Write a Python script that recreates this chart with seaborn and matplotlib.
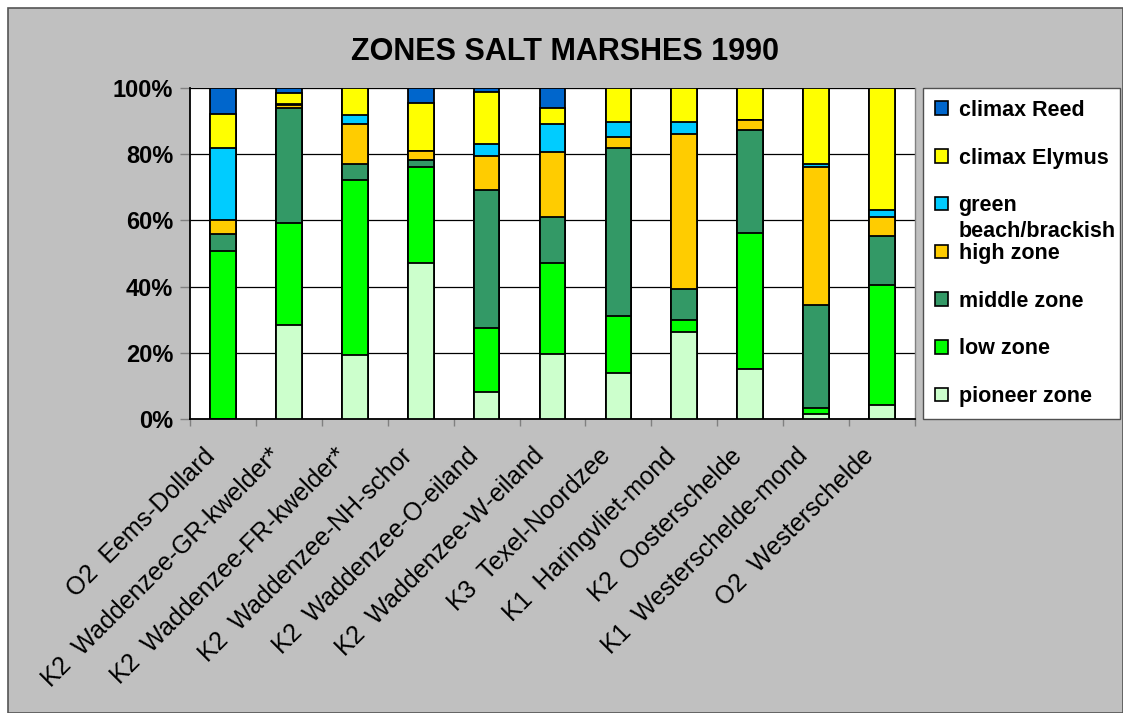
import numpy as np
import pandas as pd
import matplotlib
matplotlib.use("Agg")
import matplotlib.pyplot as plt
from matplotlib.patches import Patch, Rectangle
from matplotlib.transforms import ScaledTranslation
import seaborn as sns

categories = [
    "O2  Eems-Dollard",
    "K2  Waddenzee-GR-kwelder*",
    "K2  Waddenzee-FR-kwelder*",
    "K2  Waddenzee-NH-schor",
    "K2  Waddenzee-O-eiland",
    "K2  Waddenzee-W-eiland",
    "K3  Texel-Noordzee",
    "K1  Haringvliet-mond",
    "K2  Oosterschelde",
    "K1  Westerschelde-mond",
    "O2  Westerschelde",
]

pioneer_zone = [0.0, 28.3, 19.2, 47.1, 8.1, 19.7, 13.8, 26.4, 15.0, 1.5, 4.1]
low_zone     = [50.8, 30.9, 53.0, 29.1, 19.5, 27.4, 17.4, 3.6, 41.2, 1.8, 36.4]
middle_zone  = [5.0, 34.7, 4.8, 2.0, 41.5, 13.9, 50.8, 9.3, 31.1, 31.2, 14.7]
high_zone    = [4.2, 1.0, 12.1, 2.9, 10.4, 19.6, 3.3, 46.7, 3.1, 41.5, 5.8]
green_beach  = [22.0, 0.3, 2.7, 0.0, 3.6, 8.6, 4.4, 3.8, 0.0, 1.0, 2.1]
climax_elymus = [10.1, 3.3, 8.2, 14.5, 15.7, 4.7, 10.3, 10.2, 9.6, 23.0, 36.9]
climax_reed  = [7.9, 1.5, 0.0, 4.4, 1.2, 6.1, 0.0, 0.0, 0.0, 0.0, 0.0]

series_names = ["pioneer zone", "low zone", "middle zone", "high zone",
                "green beach/brackish", "climax Elymus", "climax Reed"]
series_values = [pioneer_zone, low_zone, middle_zone, high_zone,
                 green_beach, climax_elymus, climax_reed]
series_colors = ["#CCFFCC", "#00FF00", "#339966", "#FFCC00",
                 "#00CCFF", "#FFFF00", "#0066CC"]

y_ticks = [0, 20, 40, 60, 80, 100]
y_tick_labels = ["0%", "20%", "40%", "60%", "80%", "100%"]

FONT = ["Liberation Sans", "DejaVu Sans"]

sns.set_theme(style="white")
plt.rcParams["font.family"] = FONT
plt.rcParams["text.color"] = "black"
plt.rcParams["xtick.color"] = "black"
plt.rcParams["ytick.color"] = "black"
plt.rcParams["xtick.labelcolor"] = "black"
plt.rcParams["ytick.labelcolor"] = "black"

W, H = 1123, 713
fig = plt.figure(figsize=(W / 100, H / 100), dpi=100)
fig.patch.set_facecolor("white")
bg = Rectangle((8 / W, 0), 1 - 8 / W, 1 - 8 / H, transform=fig.transFigure,
               facecolor="#C0C0C0", edgecolor="#555555", linewidth=1.2, zorder=-10)
fig.patches.append(bg)

ax = fig.add_axes([190 / W, 1 - 419 / H, 725 / W, 331 / H])
ax.set_zorder(1)
ax.set_facecolor("white")

# normalise to 100% and stack
vals = np.array(series_values, dtype=float)
vals = vals / vals.sum(axis=0) * 100
cum = np.cumsum(vals, axis=0)

for i in range(len(series_names) - 1, -1, -1):
    df = pd.DataFrame({"site": categories, "value": cum[i]})
    sns.barplot(data=df, x="site", y="value", order=categories, color=series_colors[i],
                saturation=1, edgecolor="black", linewidth=1.3, width=0.39, ax=ax, zorder=3)

ax.set_xlim(-0.5, len(categories) - 0.5)
ax.set_ylim(0, 100)
ax.set_xlabel("")
ax.set_ylabel("")

ax.set_yticks(y_ticks)
ax.set_yticklabels(y_tick_labels, fontsize=17, fontweight="bold")
ax.tick_params(axis="y", length=7, width=1, color="#808080", pad=5, left=True)
ax.yaxis.grid(True, color="black", linewidth=0.9)
ax.set_axisbelow(True)
for b in ax.patches:
    b.set_zorder(3)

ax.set_xticks(range(len(categories)))
ax.set_xticklabels(categories, rotation=45, ha="right", va="center",
                   rotation_mode="anchor", fontsize=18)
ax.tick_params(axis="x", length=0, pad=24)
shift = ScaledTranslation(-0.12, 0, fig.dpi_scale_trans)
for lbl in ax.get_xticklabels():
    lbl.set_transform(lbl.get_transform() + shift)
ax.set_xticks(np.arange(-0.5, len(categories), 1.0), minor=True)
ax.tick_params(axis="x", which="minor", length=5, width=1, color="#808080", bottom=True)

for s in ["left", "bottom"]:
    ax.spines[s].set_color("black")
    ax.spines[s].set_linewidth(1.3)
ax.spines["top"].set_visible(False)
ax.spines["right"].set_color("#808080")
ax.spines["right"].set_linewidth(1.0)

fig.text(565 / W, 1 - 52 / H, "ZONES SALT MARSHES 1990", ha="center", va="center",
         fontsize=22, fontweight="bold", family=FONT, color="black")

legend_labels = ["climax Reed", "climax Elymus", "green", "high zone",
                 "middle zone", "low zone", "pioneer zone"]
legend_colors = ["#0066CC", "#FFFF00", "#00CCFF", "#FFCC00", "#339966", "#00FF00", "#CCFFCC"]
handles = [Patch(facecolor=c, edgecolor="black", linewidth=1.2) for c in legend_colors]
leg = fig.legend(handles, legend_labels, loc="upper left",
                 bbox_to_anchor=(923 / W, 1 - 88 / H),
                 prop={"family": FONT, "weight": "bold", "size": 15.5},
                 frameon=True, fancybox=False, framealpha=1, handlelength=0.6, handleheight=0.6,
                 handletextpad=0.5, labelspacing=1.24, borderpad=0.55, borderaxespad=0)
leg.set_zorder(5)
leg.get_frame().set_edgecolor("#505050")
leg.get_frame().set_linewidth(1.0)
leg.get_frame().set_facecolor("white")
for t in leg.get_texts():
    t.set_color("black")

fig.canvas.draw()
gt = leg.get_texts()[2]
bb = gt.get_window_extent()
fig.text(bb.x0 / W, (bb.y0 - 5) / H, "beach/brackish", ha="left", va="top",
         fontsize=15.5, fontweight="bold", family=FONT, color="black", zorder=10)

fig.savefig("out.png", dpi=100, facecolor=fig.get_facecolor())
